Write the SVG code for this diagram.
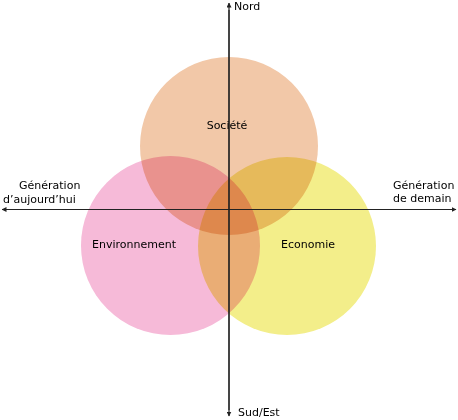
<svg xmlns="http://www.w3.org/2000/svg" width="458" height="420" viewBox="0 0 458 420">
  <style>
    .lbl { font-family: "DejaVu Sans", Verdana, sans-serif; font-size: 11px; fill: #000; }
    .c { mix-blend-mode: multiply; }
    .axis { stroke: #222; stroke-width: 1.2; fill: none; }
  </style>
  <defs>
    <marker id="ah" viewBox="0 0 10 10" refX="9" refY="5" markerWidth="5" markerHeight="5" orient="auto-start-reverse" markerUnits="userSpaceOnUse">
      <path d="M0,0 L10,5 L0,10 Z" fill="#222"/>
    </marker>
  </defs>
  <rect width="458" height="420" fill="#fff"/>
  <g style="isolation:isolate">
    <g id="societe">
      <circle class="c" cx="229" cy="146" r="89" fill="#F2C8A8"/>
    </g>
    <g id="environnement">
      <circle class="c" cx="170.5" cy="245.5" r="89.5" fill="#F6BAD8"/>
    </g>
    <g id="economie">
      <circle class="c" cx="287" cy="246" r="89" fill="#F3EE8A"/>
    </g>
  </g>
  <g id="connectors">
    <line class="axis" x1="229" y1="410" x2="229" y2="3" marker-end="url(#ah)"/>
    <line class="axis" x1="229" y1="10" x2="229" y2="416" marker-end="url(#ah)"/>
    <line class="axis" x1="452" y1="209.5" x2="2" y2="209.5" marker-end="url(#ah)"/>
    <line class="axis" x1="10" y1="209.5" x2="456" y2="209.5" marker-end="url(#ah)"/>
  </g>
  <g id="labels">
    <text class="lbl" x="227" y="129" text-anchor="middle">Société</text>
    <text class="lbl" x="134" y="248" text-anchor="middle">Environnement</text>
    <text class="lbl" x="308" y="248" text-anchor="middle">Economie</text>
    <text class="lbl" x="234" y="10">Nord</text>
    <text class="lbl" x="238" y="416">Sud/Est</text>
    <text class="lbl" x="19" y="189">Génération</text>
    <text class="lbl" x="3" y="203">d’aujourd’hui</text>
    <text class="lbl" x="393" y="189">Génération</text>
    <text class="lbl" x="393" y="202">de demain</text>
  </g>
</svg>
